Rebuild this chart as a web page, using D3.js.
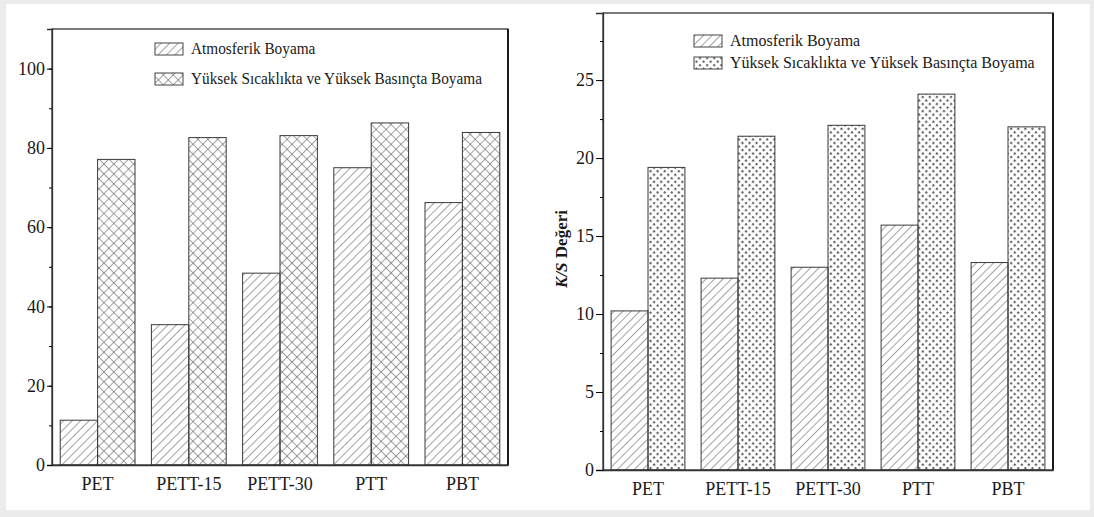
<!DOCTYPE html>
<html>
<head>
<meta charset="utf-8">
<script src="https://cdn.jsdelivr.net/npm/d3@7"></script>
<style>
  html, body { margin: 0; padding: 0; background: #ececec; }
  svg { display: block; }
  svg text { font-family: "Liberation Serif", "Times New Roman", Times, "DejaVu Serif", serif !important; fill: #1a1a1a; }
</style>
</head>
<body>
<svg id="chart" width="1094" height="517"></svg>
<script>
// Categories and series
const categories = ["PET", "PETT-15", "PETT-30", "PTT", "PBT"];
const seriesNames = ["Atmosferik Boyama", "Yüksek Sıcaklıkta ve Yüksek Basınçta Boyama"];

// Left chart values
const leftAtmosferik = [11.3, 35.4, 48.4, 75.0, 66.2];
const leftYuksek = [77.1, 82.6, 83.1, 86.3, 83.9];
const leftTicks = [0, 20, 40, 60, 80, 100];

// Right chart values (K/S)
const rightAtmosferik = [10.2, 12.3, 13.0, 15.7, 13.3];
const rightYuksek = [19.4, 21.4, 22.1, 24.1, 22.0];
const rightTicks = [0, 5, 10, 15, 20, 25];

const svg = d3.select("#chart");

// White page area with thin grey border like the screenshot
svg.append("rect").attr("x", 6).attr("y", 4).attr("width", 1084).attr("height", 506).attr("fill", "#fff");

// Fill patterns
const defs = svg.append("defs");

function hatch(id, size) {
    const p = defs.append("pattern").attr("id", id)
        .attr("patternUnits", "userSpaceOnUse")
        .attr("width", size).attr("height", size)
        .attr("patternTransform", "rotate(45)");
    p.append("line").attr("x1", 0).attr("y1", 0).attr("x2", 0).attr("y2", size)
        .attr("stroke", "#555").attr("stroke-width", 1.1);
    return p;
}
hatch("hatch", 6);
hatch("cross", 7).append("line").attr("x1", 0).attr("y1", 0).attr("x2", 7).attr("y2", 0)
    .attr("stroke", "#555").attr("stroke-width", 1.1);

const dots = defs.append("pattern").attr("id", "dots")
    .attr("patternUnits", "userSpaceOnUse")
    .attr("width", 5).attr("height", 5)
    .attr("patternTransform", "rotate(45)");
dots.append("rect").attr("x", 0).attr("y", 0).attr("width", 2.2).attr("height", 2.2).attr("fill", "#666");

function drawChart(opt) {
    const g = svg.append("g");
    const x = d3.scaleBand().domain(categories).range([opt.left, opt.right]).paddingInner(0.18).paddingOuter(0.09);
    const y = d3.scaleLinear().domain([0, opt.max]).range([opt.bottom, opt.top]);
    const half = x.bandwidth() / 2;

    // bars
    [opt.a, opt.b].forEach((vals, si) => {
        g.append("g").selectAll("rect")
            .data(vals)
            .enter()
            .append("rect")
            .attr("x", (d, i) => x(categories[i]) + si * half)
            .attr("y", d => y(d))
            .attr("width", half)
            .attr("height", d => y(0) - y(d))
            .attr("fill", "url(#" + opt.fills[si] + ")")
            .attr("stroke", "#3a3a3a")
            .attr("stroke-width", 1);
    });

    // frame
    g.append("rect").attr("x", opt.left).attr("y", opt.top)
        .attr("width", opt.right - opt.left).attr("height", opt.bottom - opt.top)
        .attr("fill", "none").attr("stroke", "#333").attr("stroke-width", 1.3);
    g.append("line").attr("x1", opt.right).attr("x2", opt.right)
        .attr("y1", opt.top).attr("y2", opt.bottom)
        .attr("stroke", "#111").attr("stroke-width", 1.8);

    // y axis with minor ticks
    const minor = d3.range(0, opt.max, opt.step / 2);
    g.append("g")
        .attr("transform", "translate(" + opt.left + ",0)")
        .call(d3.axisLeft(y).tickValues(minor).tickSize(3).tickFormat(""))
        .call(s => s.select(".domain").remove());
    const ya = g.append("g")
        .attr("transform", "translate(" + opt.left + ",0)")
        .call(d3.axisLeft(y).tickValues(opt.ticks).tickSize(opt.tickLen).tickPadding(2));
    ya.attr("font-family", null);
    ya.select(".domain").attr("stroke", "#333").attr("stroke-width", 1.3);
    ya.selectAll("text").attr("font-size", "18px");

    // x axis
    const xa = g.append("g")
        .attr("transform", "translate(0," + opt.bottom + ")")
        .call(d3.axisBottom(x).tickSize(0).tickPadding(opt.xPad));
    xa.attr("font-family", null);
    xa.select(".domain").attr("stroke", "#333").attr("stroke-width", 1.5);
    xa.selectAll("text").attr("font-size", "18px");

    // legend
    const lg = g.append("g");
    seriesNames.forEach((name, i) => {
        const ly = opt.legY + i * opt.legGap;
        lg.append("rect").attr("x", opt.legX).attr("y", ly - 6)
            .attr("width", 28).attr("height", 12)
            .attr("fill", "url(#" + opt.fills[i] + ")")
            .attr("stroke", "#444").attr("stroke-width", 1);
        const t = lg.append("text").attr("x", opt.legX + 36).attr("y", ly + 5)
            .attr("font-size", "16px").text(name);
        const w = t.node().getComputedTextLength();
        t.attr("textLength", w * opt.legSqueeze).attr("lengthAdjust", "spacingAndGlyphs");
    });
    return g;
}

drawChart({
    left: 52, right: 508, top: 29, bottom: 465, max: 110, step: 20,
    ticks: leftTicks, tickLen: 5, xPad: 12,
    a: leftAtmosferik, b: leftYuksek, fills: ["hatch", "cross"],
    legX: 155, legY: 49, legGap: 30, legSqueeze: 0.955
});

const rg = drawChart({
    left: 603, right: 1053, top: 13, bottom: 470, max: 29.3, step: 5,
    ticks: rightTicks, tickLen: 7, xPad: 12,
    a: rightAtmosferik, b: rightYuksek, fills: ["hatch", "dots"],
    legX: 694, legY: 41, legGap: 22, legSqueeze: 1
});

// y label of right chart
const yl = rg.append("text")
    .attr("transform", "translate(567,249) rotate(-90)")
    .attr("text-anchor", "middle")
    .attr("font-size", "17px")
    .attr("font-weight", "bold");
yl.append("tspan").attr("font-style", "italic").text("K/S");
yl.append("tspan").text(" Değeri");
</script>
</body>
</html>
